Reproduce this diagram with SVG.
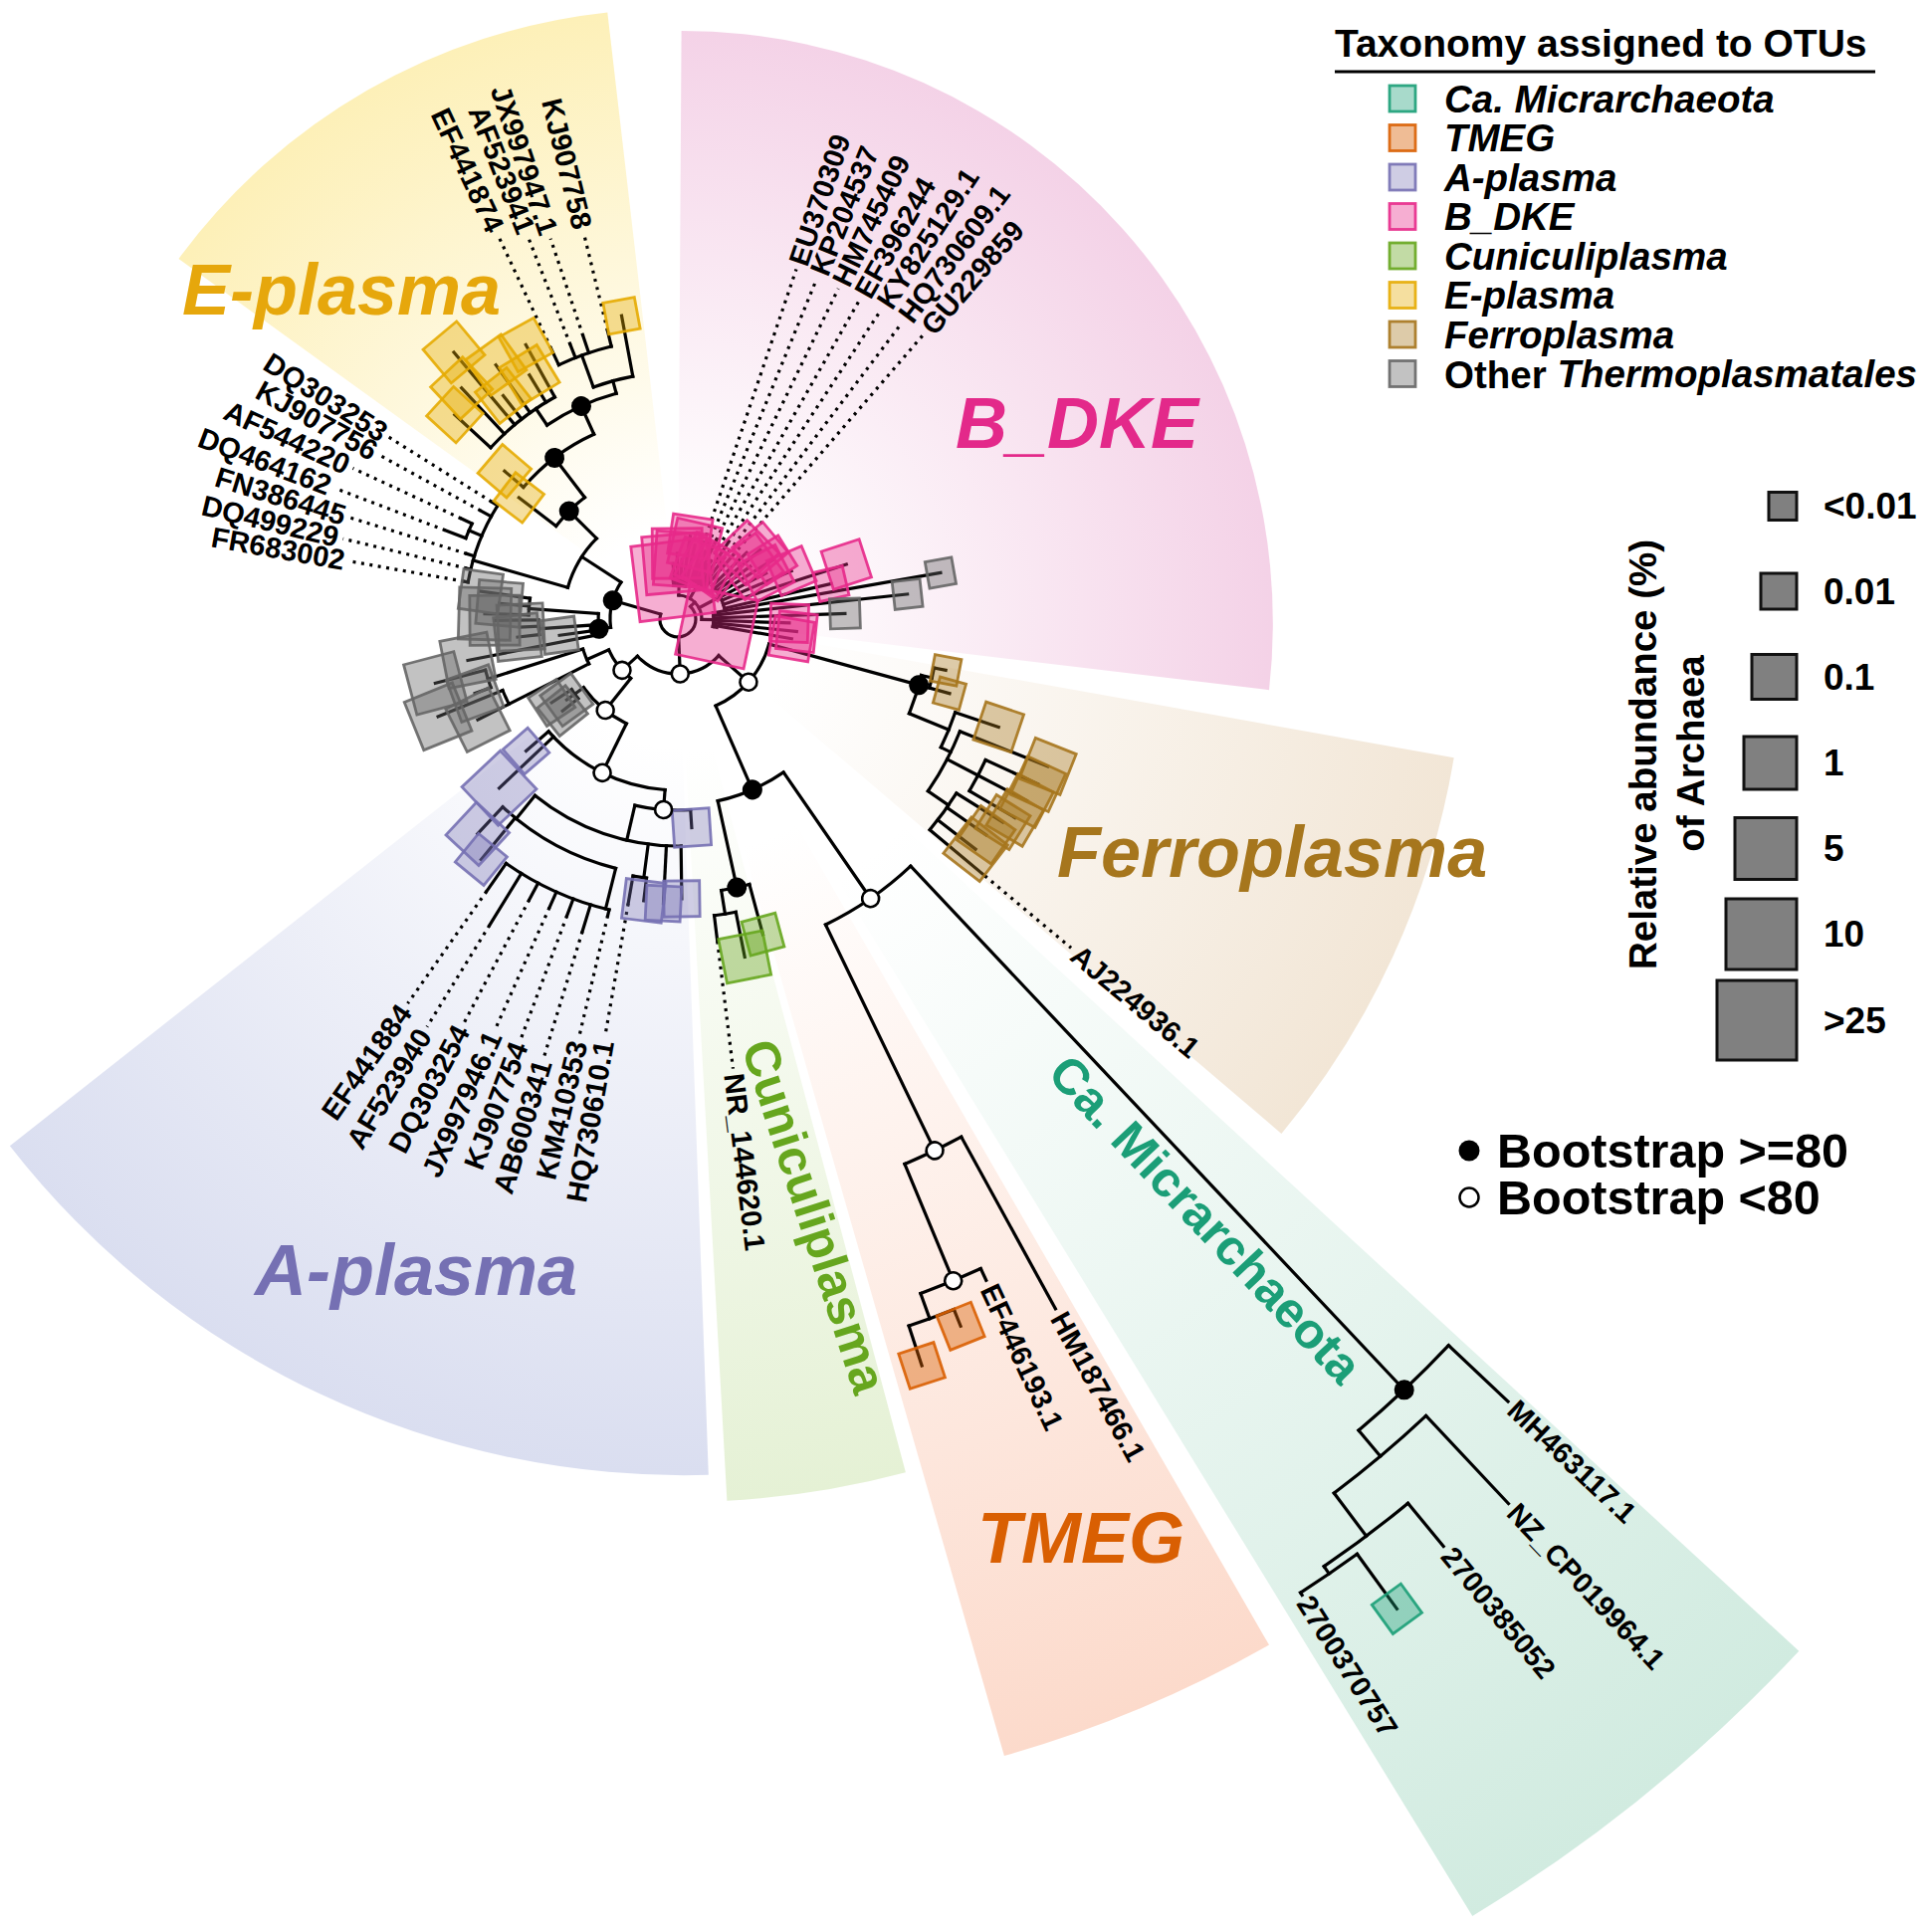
<svg xmlns="http://www.w3.org/2000/svg" width="1941" height="1941" viewBox="0 0 1941 1941">
<defs>
<style>
text{font-family:'Liberation Sans',Arial,Helvetica,sans-serif;font-weight:bold}
#connectors{stroke:#000;stroke-width:3.2;fill:none;stroke-linecap:square}
#connectors .d{stroke-dasharray:3 5.5;stroke-linecap:butt;stroke-width:3.2}
.tip text{font-size:29px;dominant-baseline:central}
rect.s{stroke-width:2.8;stroke-opacity:.9}
.pk{fill:#e7298a;fill-opacity:.38;stroke:#e7298a}
.yl{fill:#e6ab02;fill-opacity:.38;stroke:#e6ab02}
.tn{fill:#a6761d;fill-opacity:.38;stroke:#a6761d}
.lv{fill:#7570b3;fill-opacity:.35;stroke:#7570b3}
.gn{fill:#66a61e;fill-opacity:.4;stroke:#66a61e}
.or{fill:#d95f02;fill-opacity:.42;stroke:#d95f02}
.mt{fill:#1b9e77;fill-opacity:.38;stroke:#1b9e77}
.gy{fill:#666;fill-opacity:.4;stroke:#666}
.nf{fill:#000}
.no{fill:#fff;stroke:#000;stroke-width:2.6}
.clade{font-size:72px;font-style:italic}
.leg{font-size:38.5px;font-style:italic;dominant-baseline:central}
.sz{font-size:37px;dominant-baseline:central}
.bs{font-size:48.5px;dominant-baseline:central}
</style>
<radialGradient id="gE" gradientUnits="userSpaceOnUse" cx="681" cy="622" r="616"><stop offset="0.15" stop-color="#fff"/><stop offset="1" stop-color="#fdf0b8"/></radialGradient>
<radialGradient id="gB" gradientUnits="userSpaceOnUse" cx="681" cy="622" r="595"><stop offset="0.15" stop-color="#fff"/><stop offset="1" stop-color="#f4d2e7"/></radialGradient>
<radialGradient id="gF" gradientUnits="userSpaceOnUse" cx="681" cy="622" r="795"><stop offset="0.15" stop-color="#fff"/><stop offset="1" stop-color="#f2e6d6"/></radialGradient>
<radialGradient id="gM" gradientUnits="userSpaceOnUse" cx="681" cy="622" r="1530"><stop offset="0.2" stop-color="#fff"/><stop offset="1" stop-color="#d1ebe0"/></radialGradient>
<radialGradient id="gT" gradientUnits="userSpaceOnUse" cx="681" cy="622" r="1189"><stop offset="0.2" stop-color="#fff"/><stop offset="1" stop-color="#fcdacb"/></radialGradient>
<radialGradient id="gC" gradientUnits="userSpaceOnUse" cx="681" cy="622" r="887"><stop offset="0.15" stop-color="#fff"/><stop offset="1" stop-color="#e5f1d5"/></radialGradient>
<radialGradient id="gA" gradientUnits="userSpaceOnUse" cx="681" cy="622" r="858"><stop offset="0.15" stop-color="#fff"/><stop offset="1" stop-color="#dadef0"/></radialGradient>
</defs>
<rect width="1941" height="1941" fill="#fff"/>
<g id="wedges">
<path fill="url(#gE)" d="M681 622L179.5 260A616 616 0 0 1 610.3 12.4Z"/>
<path fill="url(#gB)" d="M681 622L684.6 30.9A595 595 0 0 1 1275 693.2Z"/>
<path fill="url(#gF)" d="M681 622L1460.7 761.3A795 795 0 0 1 1287.4 1138.9Z"/>
<path fill="url(#gM)" d="M681 622L1807.3 1658.8A1530 1530 0 0 1 1479.3 1924.9Z"/>
<path fill="url(#gT)" d="M681 622L1275 1652.6A1189 1189 0 0 1 1008.9 1764Z"/>
<path fill="url(#gC)" d="M681 622L909.9 1479.3A887 887 0 0 1 730.4 1507.8Z"/>
<path fill="url(#gA)" d="M681 622L711.8 1481.8A858 858 0 0 1 9.9 1151.2Z"/>
</g>
<g id="connectors" transform="translate(681 622)">
<g id="arcs">
<circle r="18" pathLength="360" stroke-dasharray="241 360" transform="rotate(-45)"/>
<circle r="24" pathLength="360" stroke-dasharray="89 360" transform="rotate(-88)"/>
<circle r="34" pathLength="360" stroke-dasharray="20 360" transform="rotate(-97)"/>
<circle r="42" pathLength="360" stroke-dasharray="22.1 360" transform="rotate(-71.3)"/>
<circle r="48" pathLength="360" stroke-dasharray="31 360" transform="rotate(-44)"/>
<circle r="36" pathLength="360" stroke-dasharray="22 360" transform="rotate(-10)"/>
<circle r="55" pathLength="360" stroke-dasharray="95.8 360" transform="rotate(41.7)"/>
<circle r="95" pathLength="360" stroke-dasharray="51.1 360" transform="rotate(15.3)"/>
<circle r="187" pathLength="360" stroke-dasharray="22.2 360" transform="rotate(55.4)"/>
<circle r="341" pathLength="360" stroke-dasharray="17.5 360" transform="rotate(46.7)"/>
<circle r="276" pathLength="360" stroke-dasharray="6 360" transform="rotate(74.9)"/>
<circle r="1064" pathLength="360" stroke-dasharray="6.7 360" transform="rotate(43.3)"/>
<circle r="1098" pathLength="360" stroke-dasharray="6.3 360" transform="rotate(46.8)"/>
<circle r="1152" pathLength="360" stroke-dasharray="5.25 360" transform="rotate(50.45)"/>
<circle r="1161" pathLength="360" stroke-dasharray="3.4 360" transform="rotate(54)"/>
<circle r="593" pathLength="360" stroke-dasharray="6.1 360" transform="rotate(61.3)"/>
<circle r="720" pathLength="360" stroke-dasharray="5.2 360" transform="rotate(65)"/>
<circle r="747" pathLength="360" stroke-dasharray="3.7 360" transform="rotate(68.2)"/>
<circle r="300" pathLength="360" stroke-dasharray="4.2 360" transform="rotate(78.8)"/>
<circle r="251" pathLength="360" stroke-dasharray="9.2 360" transform="rotate(13)"/>
<circle r="262" pathLength="360" stroke-dasharray="4.5 360" transform="rotate(10.8)"/>
<circle r="294" pathLength="360" stroke-dasharray="7.4 360" transform="rotate(18.6)"/>
<circle r="305" pathLength="360" stroke-dasharray="12.8 360" transform="rotate(21.7)"/>
<circle r="340" pathLength="360" stroke-dasharray="5.9 360" transform="rotate(24.6)"/>
<circle r="330" pathLength="360" stroke-dasharray="7.9 360" transform="rotate(32)"/>
<circle r="76" pathLength="360" stroke-dasharray="27.5 360" transform="rotate(128.5)"/>
<circle r="117" pathLength="360" stroke-dasharray="27.8 360" transform="rotate(116.2)"/>
<circle r="128" pathLength="360" stroke-dasharray="5 360" transform="rotate(141.5)"/>
<circle r="100" pathLength="360" stroke-dasharray="9.2 360" transform="rotate(153.3)"/>
<circle r="190" pathLength="360" stroke-dasharray="4.6 360" transform="rotate(153.3)"/>
<circle r="200" pathLength="360" stroke-dasharray="5.3 360" transform="rotate(159.9)"/>
<circle r="172" pathLength="360" stroke-dasharray="44.7 360" transform="rotate(94.3)"/>
<circle r="192" pathLength="360" stroke-dasharray="16.8 360" transform="rotate(86.2)"/>
<circle r="228" pathLength="360" stroke-dasharray="39.8 360" transform="rotate(89.2)"/>
<circle r="262" pathLength="360" stroke-dasharray="3 360" transform="rotate(96.9)"/>
<circle r="258" pathLength="360" stroke-dasharray="29 360" transform="rotate(104)"/>
<circle r="300" pathLength="360" stroke-dasharray="21.8 360" transform="rotate(103.3)"/>
<circle r="68" pathLength="360" stroke-dasharray="40 360" transform="rotate(173)"/>
<circle r="80" pathLength="360" stroke-dasharray="15.1 360" transform="rotate(168.9)"/>
<circle r="140" pathLength="360" stroke-dasharray="6 360" transform="rotate(173.6)"/>
<circle r="150" pathLength="360" stroke-dasharray="6.4 360" transform="rotate(181.6)"/>
<circle r="115" pathLength="360" stroke-dasharray="28.8 360" transform="rotate(196)"/>
<circle r="214" pathLength="360" stroke-dasharray="22.2 360" transform="rotate(190)"/>
<circle r="228" pathLength="360" stroke-dasharray="4 360" transform="rotate(200.9)"/>
<circle r="154" pathLength="360" stroke-dasharray="15.2 360" transform="rotate(217.4)"/>
<circle r="204" pathLength="360" stroke-dasharray="25.1 360" transform="rotate(220.5)"/>
<circle r="235" pathLength="360" stroke-dasharray="18.75 360" transform="rotate(236)"/>
<circle r="255" pathLength="360" stroke-dasharray="18.5 360" transform="rotate(222.5)"/>
<circle r="248" pathLength="360" stroke-dasharray="9.5 360" transform="rotate(250)"/>
<circle r="282" pathLength="360" stroke-dasharray="11.4 360" transform="rotate(244.9)"/>
</g>
<g id="radials">
<line x1="18" x2="24" transform="rotate(-45)"/>
<line x1="18" x2="55" transform="rotate(87.6)"/>
<line x1="18" x2="68" transform="rotate(196)"/>
<line x1="24" x2="34" transform="rotate(-88)"/>
<line x1="24" x2="42" transform="rotate(-60)"/>
<line x1="24" x2="48" transform="rotate(-28)"/>
<line x1="24" x2="36" transform="rotate(1)"/>
<line x1="34" x2="40" transform="rotate(-97)"/>
<line x1="34" x2="56" transform="rotate(-95)"/>
<line x1="34" x2="66" transform="rotate(-90.5)"/>
<line x1="34" x2="60" transform="rotate(-86)"/>
<line x1="34" x2="84" transform="rotate(-81.5)"/>
<line x1="34" x2="76" transform="rotate(-77)"/>
<line x1="42" x2="80" transform="rotate(-71.3)"/>
<line x1="42" x2="58" transform="rotate(-69.5)"/>
<line x1="42" x2="72" transform="rotate(-67.8)"/>
<line x1="42" x2="88" transform="rotate(-64.1)"/>
<line x1="42" x2="62" transform="rotate(-62)"/>
<line x1="42" x2="66" transform="rotate(-60.35)"/>
<line x1="42" x2="92" transform="rotate(-56.7)"/>
<line x1="42" x2="60" transform="rotate(-54.5)"/>
<line x1="42" x2="76" transform="rotate(-52.9)"/>
<line x1="42" x2="84" transform="rotate(-49.2)"/>
<line x1="48" x2="96" transform="rotate(-44)"/>
<line x1="48" x2="108" transform="rotate(-40)"/>
<line x1="48" x2="90" transform="rotate(-36)"/>
<line x1="48" x2="112" transform="rotate(-32)"/>
<line x1="48" x2="100" transform="rotate(-27.5)"/>
<line x1="48" x2="124" transform="rotate(-23)"/>
<line x1="48" x2="178" transform="rotate(-18)"/>
<line x1="48" x2="158" transform="rotate(-13)"/>
<line x1="36" x2="268" transform="rotate(-10)"/>
<line x1="36" x2="232" transform="rotate(-6.2)"/>
<line x1="36" x2="168" transform="rotate(-1.9)"/>
<line x1="36" x2="112" transform="rotate(2)"/>
<line x1="36" x2="120" transform="rotate(6)"/>
<line x1="36" x2="116" transform="rotate(9.8)"/>
<line x1="36" x2="40" transform="rotate(12)"/>
<line x1="55" x2="95" transform="rotate(41.7)"/>
<line x1="55" x2="76" transform="rotate(137.5)"/>
<line x1="95" x2="251" transform="rotate(15.3)"/>
<line x1="95" x2="187" transform="rotate(66.4)"/>
<line x1="187" x2="341" transform="rotate(55.4)"/>
<line x1="187" x2="276" transform="rotate(77.6)"/>
<line x1="341" x2="1064" transform="rotate(46.7)"/>
<line x1="341" x2="593" transform="rotate(64.2)"/>
<line x1="1064" x2="1146" transform="rotate(43.3)"/>
<line x1="1064" x2="1098" transform="rotate(50)"/>
<line x1="1098" x2="1219" transform="rotate(46.8)"/>
<line x1="1098" x2="1152" transform="rotate(53.1)"/>
<line x1="1152" x2="1208" transform="rotate(50.45)"/>
<line x1="1152" x2="1161" transform="rotate(55.7)"/>
<line x1="1161" x2="1164" transform="rotate(57.4)"/>
<line x1="1161" x2="1229" transform="rotate(54)"/>
<line x1="593" x2="790" transform="rotate(61.3)"/>
<line x1="593" x2="720" transform="rotate(67.4)"/>
<line x1="720" x2="733" transform="rotate(65)"/>
<line x1="720" x2="747" transform="rotate(70.2)"/>
<line x1="747" x2="765" transform="rotate(68.2)"/>
<line x1="747" x2="789" transform="rotate(71.9)"/>
<line x1="276" x2="328" transform="rotate(74.9)"/>
<line x1="276" x2="300" transform="rotate(80.9)"/>
<line x1="300" x2="346" transform="rotate(78.8)"/>
<line x1="300" x2="326" transform="rotate(83)"/>
<line x1="251" x2="262" transform="rotate(13)"/>
<line x1="262" x2="274" transform="rotate(10.8)"/>
<line x1="262" x2="283" transform="rotate(15.3)"/>
<line x1="251" x2="294" transform="rotate(22.2)"/>
<line x1="294" x2="340" transform="rotate(18.6)"/>
<line x1="294" x2="305" transform="rotate(26)"/>
<line x1="305" x2="400" transform="rotate(21.7)"/>
<line x1="305" x2="340" transform="rotate(27.5)"/>
<line x1="340" x2="398" transform="rotate(24.6)"/>
<line x1="340" x2="395" transform="rotate(27.5)"/>
<line x1="340" x2="393" transform="rotate(30.5)"/>
<line x1="305" x2="330" transform="rotate(34.5)"/>
<line x1="330" x2="385" transform="rotate(32)"/>
<line x1="330" x2="378" transform="rotate(35)"/>
<line x1="330" x2="378" transform="rotate(37.7)"/>
<line x1="330" x2="402" transform="rotate(39.9)"/>
<line x1="76" x2="117" transform="rotate(128.5)"/>
<line x1="117" x2="172" transform="rotate(116.2)"/>
<line x1="117" x2="128" transform="rotate(144)"/>
<line x1="128" x2="148" transform="rotate(141.5)"/>
<line x1="128" x2="138" transform="rotate(144)"/>
<line x1="128" x2="152" transform="rotate(146.5)"/>
<line x1="76" x2="100" transform="rotate(156)"/>
<line x1="100" x2="225" transform="rotate(153.3)"/>
<line x1="190" x2="260" transform="rotate(157.9)"/>
<line x1="100" x2="200" transform="rotate(162.5)"/>
<line x1="200" x2="217" transform="rotate(159.9)"/>
<line x1="200" x2="252" transform="rotate(165.2)"/>
<line x1="172" x2="202" transform="rotate(139)"/>
<line x1="172" x2="247" transform="rotate(136.6)"/>
<line x1="172" x2="192" transform="rotate(94.3)"/>
<line x1="192" x2="210" transform="rotate(86.2)"/>
<line x1="192" x2="228" transform="rotate(103)"/>
<line x1="228" x2="281" transform="rotate(89.2)"/>
<line x1="228" x2="286" transform="rotate(92.9)"/>
<line x1="228" x2="262" transform="rotate(97.5)"/>
<line x1="262" x2="285" transform="rotate(96.9)"/>
<line x1="262" x2="290" transform="rotate(99.9)"/>
<line x1="228" x2="258" transform="rotate(129)"/>
<line x1="258" x2="312" transform="rotate(129.3)"/>
<line x1="258" x2="295" transform="rotate(133)"/>
<line x1="258" x2="300" transform="rotate(104)"/>
<line x1="300" x2="306" transform="rotate(103.3)"/>
<line x1="300" x2="328" transform="rotate(107)"/>
<line x1="300" x2="318" transform="rotate(110.5)"/>
<line x1="300" x2="317" transform="rotate(114)"/>
<line x1="300" x2="319" transform="rotate(117.9)"/>
<line x1="300" x2="361" transform="rotate(121.6)"/>
<line x1="300" x2="334" transform="rotate(125.1)"/>
<line x1="68" x2="80" transform="rotate(173)"/>
<line x1="68" x2="115" transform="rotate(213)"/>
<line x1="80" x2="215" transform="rotate(168.9)"/>
<line x1="80" x2="120" transform="rotate(172.2)"/>
<line x1="80" x2="140" transform="rotate(176)"/>
<line x1="140" x2="162" transform="rotate(173.6)"/>
<line x1="140" x2="158" transform="rotate(177.1)"/>
<line x1="140" x2="184" transform="rotate(179.6)"/>
<line x1="80" x2="150" transform="rotate(184)"/>
<line x1="150" x2="194" transform="rotate(181.6)"/>
<line x1="150" x2="180" transform="rotate(185)"/>
<line x1="150" x2="200" transform="rotate(188)"/>
<line x1="115" x2="214" transform="rotate(196)"/>
<line x1="115" x2="154" transform="rotate(224.8)"/>
<line x1="214" x2="221" transform="rotate(212.2)"/>
<line x1="214" x2="226" transform="rotate(208.8)"/>
<line x1="214" x2="228" transform="rotate(203)"/>
<line x1="228" x2="240" transform="rotate(204.9)"/>
<line x1="228" x2="250" transform="rotate(200.9)"/>
<line x1="214" x2="222" transform="rotate(197.2)"/>
<line x1="214" x2="218" transform="rotate(193.5)"/>
<line x1="214" x2="218" transform="rotate(190)"/>
<line x1="154" x2="201" transform="rotate(217.4)"/>
<line x1="154" x2="204" transform="rotate(232.6)"/>
<line x1="204" x2="229" transform="rotate(220.5)"/>
<line x1="204" x2="235" transform="rotate(245.6)"/>
<line x1="235" x2="255" transform="rotate(236)"/>
<line x1="235" x2="248" transform="rotate(254.75)"/>
<line x1="255" x2="304" transform="rotate(222.5)"/>
<line x1="255" x2="318" transform="rotate(226.9)"/>
<line x1="255" x2="350" transform="rotate(230)"/>
<line x1="255" x2="285" transform="rotate(232)"/>
<line x1="255" x2="314" transform="rotate(234.4)"/>
<line x1="255" x2="287" transform="rotate(238.7)"/>
<line x1="255" x2="315" transform="rotate(241)"/>
<line x1="248" x2="310" transform="rotate(259.5)"/>
<line x1="248" x2="282" transform="rotate(250)"/>
<line x1="282" x2="300" transform="rotate(244.9)"/>
<line x1="282" x2="296" transform="rotate(248.6)"/>
<line x1="282" x2="300" transform="rotate(251.5)"/>
<line x1="282" x2="298" transform="rotate(256.3)"/>
</g>
<g id="dotted" class="d">
<line x1="80" x2="371" transform="rotate(-71.3)"/>
<line x1="72" x2="369.5" transform="rotate(-67.8)"/>
<line x1="88" x2="369" transform="rotate(-64.1)"/>
<line x1="66" x2="369" transform="rotate(-60.35)"/>
<line x1="92" x2="372" transform="rotate(-56.7)"/>
<line x1="76" x2="373" transform="rotate(-52.9)"/>
<line x1="84" x2="378" transform="rotate(-49.2)"/>
<line x1="298" x2="399" transform="rotate(256.3)"/>
<line x1="300" x2="403" transform="rotate(251.5)"/>
<line x1="296" x2="412" transform="rotate(248.6)"/>
<line x1="300" x2="426" transform="rotate(244.9)"/>
<line x1="221" x2="343" transform="rotate(212.2)"/>
<line x1="226" x2="342" transform="rotate(208.8)"/>
<line x1="240" x2="360" transform="rotate(204.9)"/>
<line x1="250" x2="369" transform="rotate(200.9)"/>
<line x1="222" x2="345" transform="rotate(197.2)"/>
<line x1="218" x2="346" transform="rotate(193.5)"/>
<line x1="218" x2="335" transform="rotate(190)"/>
<line x1="290" x2="425" transform="rotate(99.9)"/>
<line x1="306" x2="431" transform="rotate(103.3)"/>
<line x1="328" x2="459" transform="rotate(107)"/>
<line x1="318" x2="450" transform="rotate(110.5)"/>
<line x1="317" x2="450" transform="rotate(114)"/>
<line x1="319" x2="459" transform="rotate(117.9)"/>
<line x1="361" x2="481" transform="rotate(121.6)"/>
<line x1="334" x2="472" transform="rotate(125.1)"/>
<line x1="326" x2="455" transform="rotate(83)"/>
<line x1="402" x2="515" transform="rotate(39.9)"/>
</g>
</g>
<g id="otus" transform="translate(681 622)">
<g id="otu-bdke">
<rect class="s pk" x="2" y="-38" width="76" height="76" transform="rotate(-97)"/>
<rect class="s pk" x="27" y="-29" width="58" height="58" transform="rotate(-95)"/>
<rect class="s pk" x="41" y="-25" width="50" height="50" transform="rotate(-90.5)"/>
<rect class="s pk" x="33" y="-27" width="54" height="54" transform="rotate(-86)"/>
<rect class="s pk" x="64" y="-20" width="40" height="40" transform="rotate(-81.5)"/>
<rect class="s pk" x="53" y="-23" width="46" height="46" transform="rotate(-77)"/>
<rect class="s pk" x="36" y="-22" width="44" height="44" transform="rotate(-69.5)"/>
<rect class="s pk" x="38" y="-24" width="48" height="48" transform="rotate(-62)"/>
<rect class="s pk" x="38" y="-22" width="44" height="44" transform="rotate(-54.5)"/>
<rect class="s pk" x="73" y="-23" width="46" height="46" transform="rotate(-44)"/>
<rect class="s pk" x="88" y="-20" width="40" height="40" transform="rotate(-40)"/>
<rect class="s pk" x="66" y="-24" width="48" height="48" transform="rotate(-36)"/>
<rect class="s pk" x="94" y="-18" width="36" height="36" transform="rotate(-32)"/>
<rect class="s pk" x="79" y="-21" width="42" height="42" transform="rotate(-27.5)"/>
<rect class="s pk" x="105" y="-19" width="38" height="38" transform="rotate(-23)"/>
<rect class="s pk" x="158" y="-20" width="40" height="40" transform="rotate(-18)"/>
<rect class="s pk" x="143" y="-15" width="30" height="30" transform="rotate(-13)"/>
<rect class="s pk" x="93" y="-19" width="38" height="38" transform="rotate(2)"/>
<rect class="s pk" x="101" y="-19" width="38" height="38" transform="rotate(6)"/>
<rect class="s pk" x="96" y="-20" width="40" height="40" transform="rotate(9.8)"/>
<rect class="s pk" x="5" y="-35" width="70" height="70" transform="rotate(12)"/>
<rect class="s gy" x="254.5" y="-13.5" width="27" height="27" transform="rotate(-10)"/>
<rect class="s gy" x="218" y="-14" width="28" height="28" transform="rotate(-6.2)"/>
<rect class="s gy" x="153" y="-15" width="30" height="30" transform="rotate(-1.9)"/>
</g>
<g id="otu-eplasma">
<rect class="s yl" x="183" y="-18" width="36" height="36" transform="rotate(217.4)"/>
<rect class="s yl" x="210" y="-19" width="38" height="38" transform="rotate(220.5)"/>
<rect class="s yl" x="284" y="-20" width="40" height="40" transform="rotate(222.5)"/>
<rect class="s yl" x="296" y="-22" width="44" height="44" transform="rotate(226.9)"/>
<rect class="s yl" x="328" y="-22" width="44" height="44" transform="rotate(230)"/>
<rect class="s yl" x="265" y="-20" width="40" height="40" transform="rotate(232)"/>
<rect class="s yl" x="292" y="-22" width="44" height="44" transform="rotate(234.4)"/>
<rect class="s yl" x="265" y="-22" width="44" height="44" transform="rotate(238.7)"/>
<rect class="s yl" x="295" y="-20" width="40" height="40" transform="rotate(241)"/>
<rect class="s yl" x="294" y="-16" width="32" height="32" transform="rotate(259.5)"/>
</g>
<g id="otu-ferro">
<rect class="s tn" x="260.5" y="-13.5" width="27" height="27" transform="rotate(10.8)"/>
<rect class="s tn" x="269.5" y="-13.5" width="27" height="27" transform="rotate(15.3)"/>
<rect class="s tn" x="320" y="-20" width="40" height="40" transform="rotate(18.6)"/>
<rect class="s tn" x="378" y="-22" width="44" height="44" transform="rotate(21.7)"/>
<rect class="s tn" x="377" y="-21" width="42" height="42" transform="rotate(24.6)"/>
<rect class="s tn" x="375" y="-20" width="40" height="40" transform="rotate(27.5)"/>
<rect class="s tn" x="372" y="-21" width="42" height="42" transform="rotate(30.5)"/>
<rect class="s tn" x="365" y="-20" width="40" height="40" transform="rotate(32)"/>
<rect class="s tn" x="357" y="-21" width="42" height="42" transform="rotate(35)"/>
<rect class="s tn" x="355" y="-23" width="46" height="46" transform="rotate(37.7)"/>
</g>
<g id="otu-others">
<rect class="s mt" x="1211" y="-18" width="36" height="36" transform="rotate(54)"/>
<rect class="s or" x="746.5" y="-18.5" width="37" height="37" transform="rotate(68.2)"/>
<rect class="s or" x="770.5" y="-18.5" width="37" height="37" transform="rotate(71.9)"/>
<rect class="s gn" x="310.5" y="-17.5" width="35" height="35" transform="rotate(74.9)"/>
<rect class="s gn" x="323.5" y="-22.5" width="45" height="45" transform="rotate(78.8)"/>
</g>
<g id="otu-aplasma">
<rect class="s lv" x="185.5" y="-16.5" width="33" height="33" transform="rotate(139)"/>
<rect class="s lv" x="220.5" y="-26.5" width="53" height="53" transform="rotate(136.6)"/>
<rect class="s lv" x="191.5" y="-18.5" width="37" height="37" transform="rotate(86.2)"/>
<rect class="s lv" x="263" y="-18" width="36" height="36" transform="rotate(89.2)"/>
<rect class="s lv" x="268.5" y="-17.5" width="35" height="35" transform="rotate(92.9)"/>
<rect class="s lv" x="265" y="-20" width="40" height="40" transform="rotate(96.9)"/>
<rect class="s lv" x="293.5" y="-18.5" width="37" height="37" transform="rotate(129.3)"/>
<rect class="s lv" x="272.5" y="-22.5" width="45" height="45" transform="rotate(133)"/>
</g>
<g id="otu-gray">
<rect class="s gy" x="130" y="-18" width="36" height="36" transform="rotate(141.5)"/>
<rect class="s gy" x="119" y="-19" width="38" height="38" transform="rotate(144)"/>
<rect class="s gy" x="135" y="-17" width="34" height="34" transform="rotate(146.5)"/>
<rect class="s gy" x="201" y="-24" width="48" height="48" transform="rotate(153.3)"/>
<rect class="s gy" x="234" y="-26" width="52" height="52" transform="rotate(157.9)"/>
<rect class="s gy" x="194.5" y="-22.5" width="45" height="45" transform="rotate(159.9)"/>
<rect class="s gy" x="226" y="-26" width="52" height="52" transform="rotate(165.2)"/>
<rect class="s gy" x="191" y="-24" width="48" height="48" transform="rotate(168.9)"/>
<rect class="s gy" x="103" y="-17" width="34" height="34" transform="rotate(172.2)"/>
<rect class="s gy" x="140" y="-22" width="44" height="44" transform="rotate(173.6)"/>
<rect class="s gy" x="135" y="-23" width="46" height="46" transform="rotate(177.1)"/>
<rect class="s gy" x="159" y="-25" width="50" height="50" transform="rotate(179.6)"/>
<rect class="s gy" x="168" y="-26" width="52" height="52" transform="rotate(181.6)"/>
<rect class="s gy" x="158" y="-22" width="44" height="44" transform="rotate(185)"/>
<rect class="s gy" x="180" y="-20" width="40" height="40" transform="rotate(188)"/>
</g>
</g>
<g id="bootstrap-nodes" transform="translate(681 622)">
<circle class="nf" cx="1064" r="10" transform="rotate(46.7)"/>
<circle class="nf" cx="187" r="10" transform="rotate(66.4)"/>
<circle class="nf" cx="276" r="10" transform="rotate(77.6)"/>
<circle class="nf" cx="251" r="10" transform="rotate(15.3)"/>
<circle class="nf" cx="68" r="10" transform="rotate(196)"/>
<circle class="nf" cx="80" r="10" transform="rotate(173)"/>
<circle class="nf" cx="154" r="10" transform="rotate(224.8)"/>
<circle class="nf" cx="204" r="10" transform="rotate(232.6)"/>
<circle class="nf" cx="235" r="10" transform="rotate(245.6)"/>
<circle class="no" cx="55" r="8.5" transform="rotate(87.6)"/>
<circle class="no" cx="95" r="8.5" transform="rotate(41.7)"/>
<circle class="no" cx="341" r="8.5" transform="rotate(55.4)"/>
<circle class="no" cx="593" r="8.5" transform="rotate(64.2)"/>
<circle class="no" cx="720" r="8.5" transform="rotate(67.4)"/>
<circle class="no" cx="76" r="8.5" transform="rotate(137.5)"/>
<circle class="no" cx="117" r="8.5" transform="rotate(128.5)"/>
<circle class="no" cx="172" r="8.5" transform="rotate(116.2)"/>
<circle class="no" cx="192" r="8.5" transform="rotate(94.3)"/>
</g>
<g id="tiplabels" class="tip" transform="translate(681 622)">
<text x="376" transform="rotate(-71.3)">EU370309</text>
<text x="374.5" transform="rotate(-67.8)">KP204537</text>
<text x="374" transform="rotate(-64.1)">HM745409</text>
<text x="374" transform="rotate(-60.35)">EF396244</text>
<text x="377" transform="rotate(-56.7)">KY825129.1</text>
<text x="378" transform="rotate(-52.9)">HQ730609.1</text>
<text x="383" transform="rotate(-49.2)">GU229859</text>
<text x="460" transform="rotate(83)">NR_144620.1</text>
<text x="520" transform="rotate(39.9)">AJ224936.1</text>
<text x="796" transform="rotate(61.3)">HM187466.1</text>
<text x="739" transform="rotate(65)">EF446193.1</text>
<text x="1152" transform="rotate(43.3)">MH463117.1</text>
<text x="1225" transform="rotate(46.8)">NZ_CP019964.1</text>
<text x="1214" transform="rotate(50.45)">2700385052</text>
<text x="1168" transform="rotate(57.4)">2700370757</text>
<text x="-404" text-anchor="end" transform="rotate(76.3)">KJ907758</text>
<text x="-408" text-anchor="end" transform="rotate(71.5)">JX997947.1</text>
<text x="-417" text-anchor="end" transform="rotate(68.6)">AF523941</text>
<text x="-431" text-anchor="end" transform="rotate(64.9)">EF441874</text>
<text x="-348" text-anchor="end" transform="rotate(32.2)">DQ303253</text>
<text x="-347" text-anchor="end" transform="rotate(28.8)">KJ907756</text>
<text x="-365" text-anchor="end" transform="rotate(24.9)">AF544220</text>
<text x="-374" text-anchor="end" transform="rotate(20.9)">DQ464162</text>
<text x="-350" text-anchor="end" transform="rotate(17.2)">FN386445</text>
<text x="-351" text-anchor="end" transform="rotate(13.5)">DQ499229</text>
<text x="-340" text-anchor="end" transform="rotate(10)">FR683002</text>
<text x="-430" text-anchor="end" transform="rotate(-80.1)">HQ730610.1</text>
<text x="-436" text-anchor="end" transform="rotate(-76.7)">KM410353</text>
<text x="-464" text-anchor="end" transform="rotate(-73)">AB600341</text>
<text x="-455" text-anchor="end" transform="rotate(-69.5)">KJ907754</text>
<text x="-455" text-anchor="end" transform="rotate(-66)">JX997946.1</text>
<text x="-464" text-anchor="end" transform="rotate(-62.1)">DQ303254</text>
<text x="-486" text-anchor="end" transform="rotate(-58.4)">AF523940</text>
<text x="-477" text-anchor="end" transform="rotate(-54.9)">EF441884</text>
</g>
<g id="clade-labels">
<text class="clade" x="183" y="316" fill="#e6a70c">E-plasma</text>
<text class="clade" x="960" y="450" fill="#e3298a">B_DKE</text>
<text class="clade" x="1062" y="881" fill="#a6761d">Ferroplasma</text>
<text class="clade" x="256" y="1301" fill="#7570b3">A-plasma</text>
<text class="clade" x="982" y="1570" fill="#d95f02">TMEG</text>
<text font-size="50" fill="#66a61e" text-anchor="middle" dominant-baseline="central" transform="translate(818 1222) rotate(72)">Cuniculiplasma</text>
<text font-size="50" fill="#1b9e77" text-anchor="middle" dominant-baseline="central" transform="translate(1211 1225) rotate(46.6)">Ca. Micrarchaeota</text>
</g>
<g id="legend-taxonomy">
<text x="1341" y="57" font-size="39">Taxonomy assigned to OTUs</text>
<line x1="1341" y1="72" x2="1884" y2="72" stroke="#000" stroke-width="3"/>
<rect class="s mt" x="1396" y="86" width="26" height="26"/>
<rect class="s or" x="1396" y="125.5" width="26" height="26"/>
<rect class="s lv" x="1396" y="165" width="26" height="26"/>
<rect class="s pk" x="1396" y="204.5" width="26" height="26"/>
<rect class="s gn" x="1396" y="244" width="26" height="26"/>
<rect class="s yl" x="1396" y="283.5" width="26" height="26"/>
<rect class="s tn" x="1396" y="323" width="26" height="26"/>
<rect class="s gy" x="1396" y="362.5" width="26" height="26"/>
<text class="leg" x="1451" y="99">Ca. Micrarchaeota</text>
<text class="leg" x="1451" y="138.5">TMEG</text>
<text class="leg" x="1451" y="178">A-plasma</text>
<text class="leg" x="1451" y="217.5">B_DKE</text>
<text class="leg" x="1451" y="257">Cuniculiplasma</text>
<text class="leg" x="1451" y="296.5">E-plasma</text>
<text class="leg" x="1451" y="336">Ferroplasma</text>
<text class="leg" x="1451" y="375.5"><tspan font-style="normal">Other </tspan>Thermoplasmatales</text>
</g>
<g id="legend-size">
<g fill="#808080" stroke="#111" stroke-width="3">
<rect x="1777" y="494.5" width="28" height="28"/>
<rect x="1769" y="576" width="36" height="36"/>
<rect x="1760" y="657.5" width="45" height="45"/>
<rect x="1752" y="740" width="53" height="53"/>
<rect x="1743" y="821.5" width="62" height="62"/>
<rect x="1734" y="903" width="71" height="71"/>
<rect x="1725" y="985" width="80" height="80"/>
</g>
<text class="sz" x="1832" y="508.5">&lt;0.01</text>
<text class="sz" x="1832" y="594">0.01</text>
<text class="sz" x="1832" y="680">0.1</text>
<text class="sz" x="1832" y="766.5">1</text>
<text class="sz" x="1832" y="852.5">5</text>
<text class="sz" x="1832" y="938.5">10</text>
<text class="sz" x="1832" y="1025">&gt;25</text>
<text font-size="38.5" text-anchor="middle" dominant-baseline="central" transform="translate(1650 758) rotate(-90)">Relative abundance (%)</text>
<text font-size="38.5" text-anchor="middle" dominant-baseline="central" transform="translate(1698 757) rotate(-90)">of Archaea</text>
</g>
<g id="legend-bootstrap">
<circle cx="1476" cy="1156" r="10.5" fill="#000"/>
<circle cx="1476" cy="1203" r="9.5" fill="#fff" stroke="#000" stroke-width="2.5"/>
<text class="bs" x="1504" y="1156">Bootstrap &gt;=80</text>
<text class="bs" x="1504" y="1203">Bootstrap &lt;80</text>
</g>
</svg>
